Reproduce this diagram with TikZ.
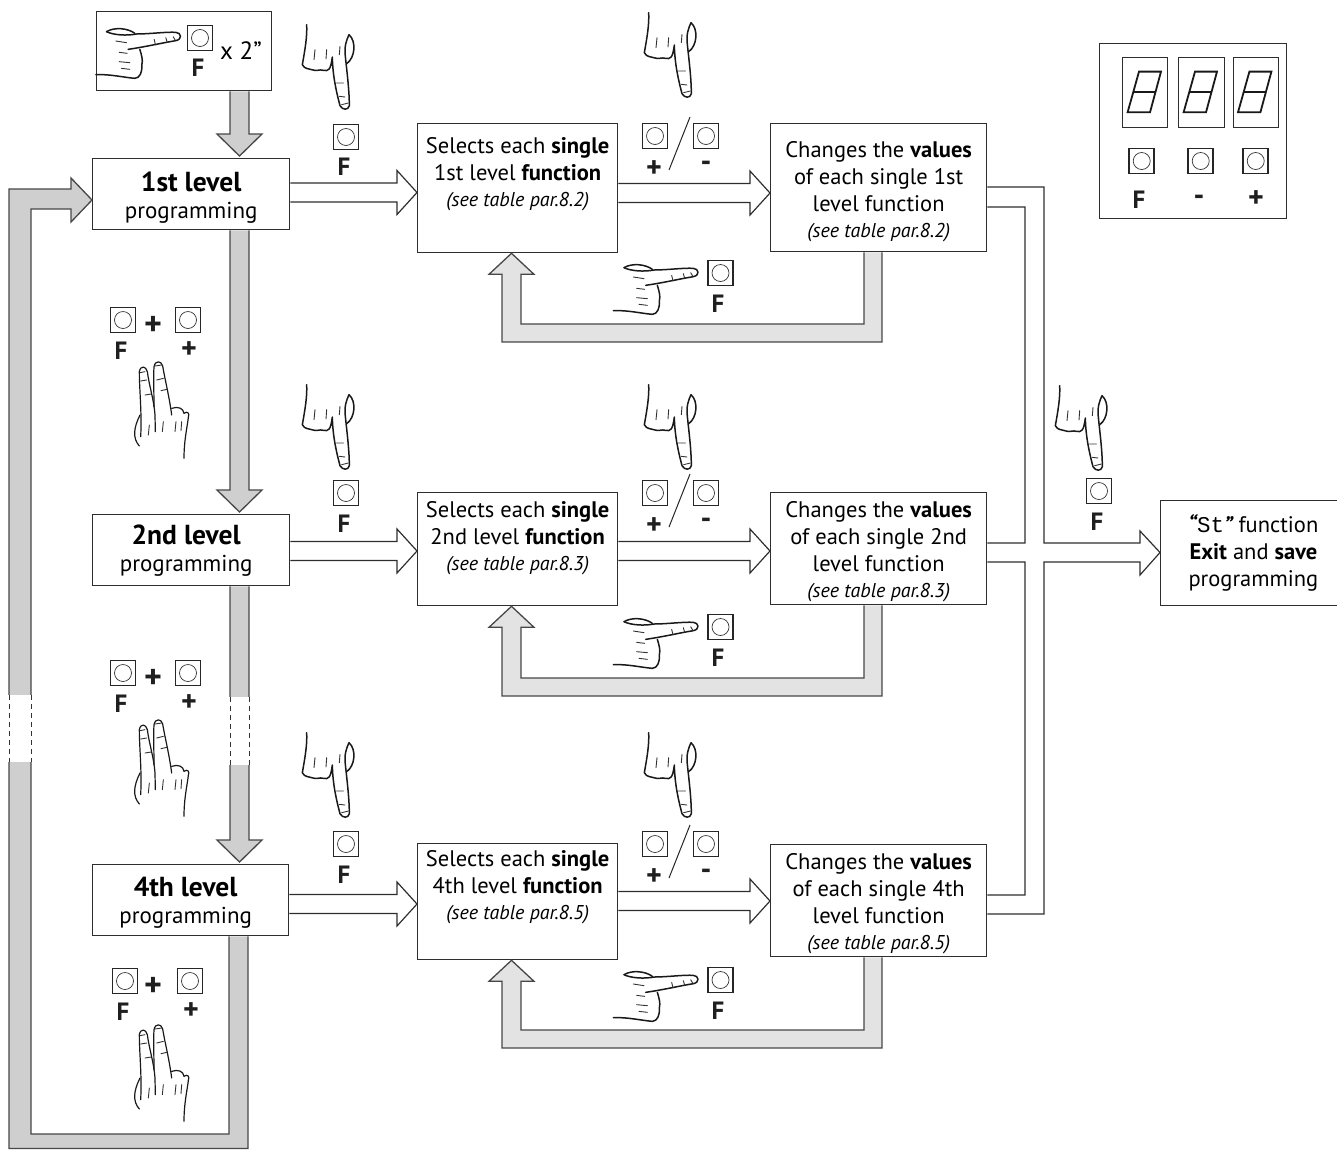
\documentclass[tikz,border=0pt]{standalone}
\usepackage{fontspec}
\usetikzlibrary{calc}
\setmainfont{PT Sans}
\setmonofont{Liberation Mono}
% wd, ht, top gap, right shift pad, content
\newcommand\boxtxt[5]{\parbox[c][#2][t]{#1}{\fontsize{22.5}{27}\selectfont\centering\rightskip=#4 plus 1fil\relax\vspace*{#3}#5\par}}
\newcommand\levtxt[5]{\parbox[c][#2][t]{#1}{\fontsize{23}{27}\selectfont\centering\rightskip=#4 plus 1fil\relax\vspace*{#3}{\fontsize{27.5}{27}\selectfont\bfseries\strut #5}\\programming\par}}
\newcommand\tbl[1]{{\fontsize{20}{26}\selectfont\itshape #1}}
% grey vertical block arrow: from, to, left x, right x
\newcommand\blockV[4]{\draw[grayarrow] (#3,0 |- #1.south) -- ($(#3,0 |- #2.north)+(0,-24)$) -- ++(-13,0) -- ($(#3,0 |- #2.north)+(9.5,-2)$) -- ($(#3,0 |- #2.north)+(32,-24)$) -- ++(-13,0) -- (#4,0 |- #1.south);}
\tikzset{
 box/.style={draw=black!82,line width=1.3pt,fill=white,inner sep=0pt,anchor=north west},
 lab/.style={inner sep=0pt,text=black!88,font=\fontsize{25}{25}\selectfont\bfseries},
 sml/.style={inner sep=0pt,text=black!88,font=\fontsize{30}{30}\selectfont\bfseries},
 btn/.style={draw=black!85,line width=1.6pt,minimum size=25pt,inner sep=0pt,
   path picture={\draw[line width=.7pt,black!80] (path picture bounding box.center) circle (8.5pt);}},
 handline/.style={line width=1.5pt,black!90,line cap=round,line join=round},
 thinline/.style={line width=.9pt,black!80,line cap=round},
 grayarrow/.style={draw=black!72,line width=1.3pt,fill=black!19,line join=miter},
 retarrow/.style={draw=black!72,line width=1.3pt,fill=black!11},
 whitearrow/.style={draw=black!82,line width=1.2pt,miter limit=10},
 gapdash/.style={draw=black!80,line width=1pt,dash pattern=on 5pt off 4pt},
 handright/.pic={\begin{scope}[scale=1/3,shift={(-272,-108)}]
  \draw[handline] (50,95) .. controls (75,80) and (115,85) .. (135,100);
  \draw[handline] (50,95) .. controls (70,105) and (110,108) .. (140,102) .. controls (180,102) and (230,95) .. (258,97) .. controls (275,98) and (278,118) .. (258,122) .. controls (220,128) and (170,140) .. (115,148);
  \draw[handline] (150,148) .. controls (155,165) and (160,180) .. (156,195) .. controls (158,215) and (150,235) .. (135,235) .. controls (100,232) and (60,222) .. (18,224);
  \draw[thinline] (78,123)--(110,128) (88,157)--(112,160) (88,185)--(120,188) (95,205)--(120,208) (193,118)--(197,135) (228,113)--(232,127) (250,110)--(256,120);
 \end{scope}},
 handdown/.pic={\begin{scope}[scale=1/3,shift={(-765,-328)}]
  \draw[handline] (650,75) .. controls (652,110) and (645,150) .. (637,195) .. controls (645,210) and (655,205) .. (665,210) .. controls (680,216) and (690,208) .. (700,212) .. controls (715,215) and (722,212) .. (727,172) .. controls (728,230) and (740,280) .. (750,318) .. controls (758,332) and (775,332) .. (778,318) .. controls (778,270) and (770,210) .. (766,170) .. controls (762,140) and (770,120) .. (777,105) .. controls (800,125) and (795,175) .. (770,192);
  \draw[thinline] (675,150)--(672,180) (710,150)--(708,178) (750,140)--(748,165) (740,250)--(760,250) (748,290)--(765,292) (755,315)--(775,310);
 \end{scope}},
 twofingers/.pic={\begin{scope}[scale=1/3]
  \draw[handline,line width=1.2pt] (120,345) .. controls (100,385) and (98,415) .. (118,438);
  \draw[handline,line width=1.2pt] (122,410) .. controls (126,340) and (118,270) .. (118,215) .. controls (122,195) and (138,198) .. (142,215) .. controls (148,260) and (162,300) .. (165,345) -- (166,395);
  \draw[handline,line width=1.2pt] (162,320) .. controls (162,280) and (160,230) .. (162,200) .. controls (166,180) and (184,182) .. (188,198) .. controls (195,240) and (208,290) .. (215,345);
  \draw[handline,line width=1.2pt] (215,325) .. controls (235,318) and (250,325) .. (252,340) .. controls (262,332) and (270,340) .. (265,352) .. controls (262,380) and (252,420) .. (252,475);
  \draw[thinline] (148,375)--(145,405) (190,365)--(187,395) (228,365)--(225,395) (245,365)--(243,392) (140,240)--(122,243) (153,282)--(135,285) (190,235)--(170,240) (200,268)--(183,272) (120,218)--(135,215) (165,198)--(185,195);
 \end{scope}},
 sevenseg/.pic={\draw[line width=1.8pt,black!90,line join=miter] (16.7,14.3)--(38.7,14.3)--(27.7,55)--(5.3,55)--cycle (11,34.7)--(33.3,34.7);},
}
\begin{document}
\begin{tikzpicture}[x=1pt,y=-1pt]
\useasboundingbox (0,0) rectangle (1337,1149);
% boxes
\node[box] (start) at (96,11) {\parbox[c][79pt][t]{175pt}{\mbox{}}};
\node[box] (L1) at (92,158) {\levtxt{197pt}{71pt}{13.5pt}{0pt}{1st level}};
\node[box] (L2) at (92,514) {\levtxt{197pt}{71pt}{10pt}{10pt}{2nd level}};
\node[box] (L4) at (92,864) {\levtxt{196pt}{71pt}{12pt}{10pt}{4th level}};
\node[box] (S1) at (417,123) {\boxtxt{200pt}{129pt}{11pt}{0pt}{\strut Selects each \textbf{single}\\1st level \textbf{function}\\[-1.5pt]\tbl{(see table par.8.2)}}};
\node[box] (S2) at (417,492) {\boxtxt{200pt}{113pt}{6pt}{0pt}{\strut Selects each \textbf{single}\\2nd level \textbf{function}\\[-1.5pt]\tbl{(see table par.8.3)}}};
\node[box] (S4) at (417,843) {\boxtxt{200pt}{116pt}{4pt}{0pt}{\strut Selects each \textbf{single}\\4th level \textbf{function}\\[-1.5pt]\tbl{(see table par.8.5)}}};
\node[box] (V1) at (770,123) {\boxtxt{216pt}{128pt}{15pt}{0pt}{\strut Changes the \textbf{values}\\of each single 1st\\level function\\[-1.5pt]\tbl{(see table par.8.2)}}};
\node[box] (V2) at (770,492) {\boxtxt{216pt}{112pt}{6pt}{0pt}{\strut Changes the \textbf{values}\\of each single 2nd\\level function\\[-1.5pt]\tbl{(see table par.8.3)}}};
\node[box] (V4) at (770,844) {\boxtxt{216pt}{112pt}{6pt}{0pt}{\strut Changes the \textbf{values}\\of each single 4th\\level function\\[-1.5pt]\tbl{(see table par.8.5)}}};
\node[box] (X) at (1160,500) {\boxtxt{176.5pt}{105pt}{13pt}{-9pt}{\strut{\bfseries\itshape“}{\ttfamily St}{\bfseries\itshape”} function\\\textbf{Exit} and \textbf{save}\\programming}};
% grey arrows
\blockV{start}{L1}{230}{249}
\blockV{L1}{L2}{230}{249}
\blockV{L2}{L4}{230}{249}
\coordinate (g1a) at (229,697); \coordinate (g1b) at (250,765);
\fill[white] (g1a) rectangle (g1b);
\draw[gapdash] (230,697)--(230,765) (249,697)--(249,765);
% feedback from L4 to L1
\draw[grayarrow] (248,0 |- L4.south) -- (248,1148.5) -- (9,1148.5) -- (9,189) -- (71,189) -- (71,178) -- (L1.west |- 0,200) -- (71,222) -- (71,209) -- (31,209) -- (31,1134) -- (229,1134) -- (229,0 |- L4.south);
\coordinate (g2a) at (8,695); \coordinate (g2b) at (32,762);
\fill[white] (g2a) rectangle (g2b);
\draw[gapdash] (9,695)--(9,762) (31,695)--(31,762);
% white arrows
\newcommand\wh[3]{\draw[whitearrow] (#1.east |- 0,#3-9.5) -- ($(#2.west |- 0,#3-9.5)+(-20,0)$) -- ++(0,-12.5) -- (#2.west |- 0,#3) -- ($(#2.west |- 0,#3+22)+(-20,0)$) -- ++(0,-12.5) -- (#1.east |- 0,#3+9.5);}
\wh{L1}{S1}{192.5}
\wh{S1}{V1}{193}
\wh{L2}{S2}{551}
\wh{S2}{V2}{551}
\wh{L4}{S4}{904}
\wh{S4}{V4}{901}
% return arrows
\newcommand\ret[3]{\draw[retarrow] (882,0 |- #1.south) -- (882,#3+18) -- (502,#3+18) -- ($(502,0 |- #2.south)+(0,21)$) -- ++(-13,0) -- (511.5,0 |- #2.south) -- ($(534,0 |- #2.south)+(0,21)$) -- ++(-13,0) -- (521,#3) -- (864,#3) -- (864,0 |- #1.south);}
\ret{V1}{S1}{324}
\ret{V2}{S2}{678}
\ret{V4}{S4}{1030}
% collector
\draw[whitearrow] (V1.east |- 0,187) -- (1044,187) -- (1044,543) -- (1140,543) -- (1140,531) -- (X.west |- 0,552.5) -- (1140,575) -- (1140,562) -- (1044,562) -- (1044,914) -- (V4.east |- 0,914)
 (V1.east |- 0,207) -- (1025,207) -- (1025,543) -- (V2.east |- 0,543)
 (V2.east |- 0,562) -- (1025,562) -- (1025,895) -- (V4.east |- 0,895);
% start box content
\pic at (180.5,36) {handright};
\node[btn] (b0) at (200,38) {};
\node[lab] (f0) at (198,68) {F};
\node[inner sep=0pt,font=\fontsize{25}{25}\selectfont] (x2) at (241,50.5) {x 2”};
% F columns
\pic at (345,109) {handdown};
\node[btn] (b1) at (346,137) {}; \node[lab] (f1) at (344,167) {F};
\pic at (345,469) {handdown};
\node[btn] (b2) at (346,493) {}; \node[lab] (f2) at (344,524) {F};
\pic at (345,817) {handdown};
\node[btn] (b3) at (346,844) {}; \node[lab] (f3) at (344,875) {F};
\pic at (1098,470) {handdown};
\node[btn] (b4) at (1099,491) {}; \node[lab] (f4) at (1097,522) {F};
% +/- columns
\newcommand\plusminus[3]{\pic at (687,#1) {handdown};
 \node[btn] (bp#3) at (655,#2) {}; \node[btn] (bm#3) at (706,#2) {};
 \node[sml] (lp#3) at (654,#2+33) {+}; \node[sml] (lm#3) at (706,#2+30) {-};
 \coordinate (sa#3) at (690,#2-19); \coordinate (sb#3) at (669,#2+34);
 \draw[line width=1pt,black!85] (sa#3) -- (sb#3);}
\plusminus{97}{136}{1}\plusminus{469}{493}{2}\plusminus{817}{844}{3}
% return hands
\pic at (698,272) {handright}; \node[btn] (rb1) at (720.5,273) {}; \node[lab] (rf1) at (718,304) {F};
\pic at (698,626) {handright}; \node[btn] (rb2) at (720.5,627) {}; \node[lab] (rf2) at (718,658) {F};
\pic at (698,979) {handright}; \node[btn] (rb3) at (720.5,980) {}; \node[lab] (rf3) at (718,1011) {F};
% two-finger groups
\newcommand\tf[4]{\node[btn] (tfa#4) at (#1,#2) {}; \node[btn] (tfb#4) at (#1+65,#2) {};
 \node[inner sep=0pt,text=black!88,font=\fontsize{34}{34}\selectfont\bfseries] (tfp#4) at (153,#2+6) {+};
 \node[lab] (tff#4) at (#1-2,#2+31) {F}; \node[sml] (tfq#4) at (#1+66,#2+30) {+};
 \pic at (100,#3) {twofingers};}
\tf{123}{320}{300}{1}\tf{123}{673}{658}{2}\tf{125}{981}{963}{3}
% panel
\node[box,fill=none] (panel) at (1099,43) {\parbox[c][175pt][t]{187pt}{\mbox{}}};
\node[box,line width=1pt,fill=none] (d1) at (1122.3,57.3) {\parbox[c][70pt][t]{45pt}{\mbox{}}};
\node[box,line width=1pt,fill=none] (d2) at (1178.3,57.3) {\parbox[c][70pt][t]{45.3pt}{\mbox{}}};
\node[box,line width=1pt,fill=none] (d3) at (1232.7,57.3) {\parbox[c][70pt][t]{45pt}{\mbox{}}};
\pic at (d1.north west) {sevenseg};\pic at (d2.north west) {sevenseg};\pic at (d3.north west) {sevenseg};
\node[btn] (pb1) at (1141.7,161) {}; \node[btn] (pb2) at (1200.7,161) {}; \node[btn] (pb3) at (1255.7,161) {};
\node[lab] (pl1) at (1139,200) {F}; \node[sml] (pl2) at (1199,200) {-}; \node[sml] (pl3) at (1256,199) {+};
\end{tikzpicture}
\end{document}
